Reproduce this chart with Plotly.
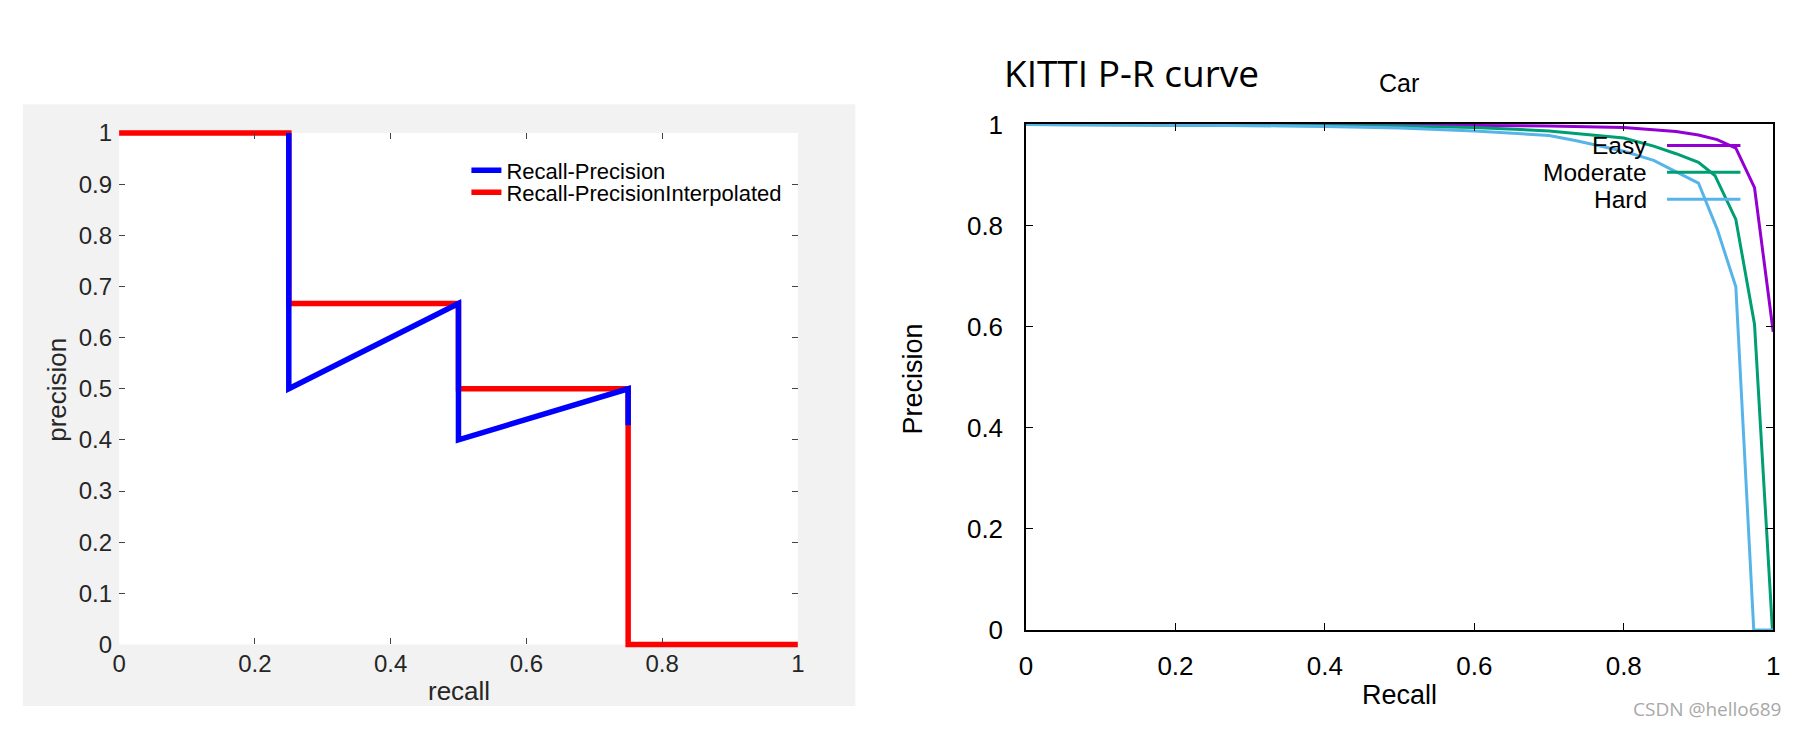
import plotly.graph_objects as go

# ---------------- data ----------------
# left panel (toy example)
rp_recall = [0.25, 0.25, 0.5, 0.5, 0.5, 0.75, 0.75]
rp_precision = [1.0, 0.5, 0.6667, 0.5, 0.4, 0.5, 0.4286]
interp_recall = [0.0, 0.25, 0.25, 0.5, 0.5, 0.75, 0.75, 1.0]
interp_precision = [1.0, 1.0, 0.6667, 0.6667, 0.5, 0.5, 0.0, 0.0]

left_xticks = [0, 0.2, 0.4, 0.6, 0.8, 1]
left_xticktext = ["0", "0.2", "0.4", "0.6", "0.8", "1"]
left_yticks = [0, 0.1, 0.2, 0.3, 0.4, 0.5, 0.6, 0.7, 0.8, 0.9, 1]
left_yticktext = ["0", "0.1", "0.2", "0.3", "0.4", "0.5", "0.6", "0.7", "0.8", "0.9", "1"]

# right panel (KITTI Car)
easy_recall = [0.0, 0.2, 0.4, 0.5, 0.6, 0.7, 0.8, 0.87, 0.9, 0.925, 0.95, 0.975, 1.0]
easy_precision = [1.0, 1.0, 0.999, 0.999, 0.998, 0.997, 0.994, 0.986, 0.979, 0.97, 0.953, 0.875, 0.59]
moderate_recall = [0.0, 0.2, 0.4, 0.5, 0.6, 0.7, 0.8, 0.84, 0.87, 0.9, 0.922, 0.95, 0.975, 0.999]
moderate_precision = [1.0, 0.999, 0.998, 0.997, 0.994, 0.987, 0.973, 0.957, 0.942, 0.925, 0.899, 0.812, 0.605, 0.0]
hard_recall = [0.0, 0.2, 0.4, 0.5, 0.6, 0.7, 0.735, 0.8, 0.84, 0.87, 0.9, 0.925, 0.95, 0.974, 1.0]
hard_precision = [1.0, 0.999, 0.996, 0.993, 0.987, 0.978, 0.968, 0.947, 0.929, 0.906, 0.884, 0.793, 0.679, 0.0, 0.0]

right_ticks = [0, 0.2, 0.4, 0.6, 0.8, 1]
right_ticktext = ["0", "0.2", "0.4", "0.6", "0.8", "1"]

# ---------------- layout helpers ----------------
W, H = 1804, 742


def px(x):
    return x / W


def py(y):
    return 1 - y / H


E = 0.01  # small data padding so edge lines are not clipped


def dom_x(x0, x1):
    w = x1 - x0
    return [px(x0 - E * w), px(x1 + E * w)]


def dom_y(top, bottom):
    h = bottom - top
    return [py(bottom + E * h), py(top - E * h)]


# plot areas (pixels)
L = dict(x0=113, x1=797, top=123, bottom=656)
R = dict(x0=1027, x1=1780, top=114, bottom=641)

FONT = "Liberation Sans, Arial, sans-serif"
MGRAY = "#262626"

fig = go.Figure()

# left traces (red first, blue on top)
fig.add_trace(go.Scatter(x=interp_recall, y=interp_precision, mode="lines",
                         line=dict(color="#ff0000", width=5.5),
                         name="Recall-PrecisionInterpolated",
                         xaxis="x", yaxis="y", legend="legend2"))
fig.add_trace(go.Scatter(x=rp_recall, y=rp_precision, mode="lines",
                         line=dict(color="#0000ff", width=5.5),
                         name="Recall-Precision",
                         xaxis="x", yaxis="y", legend="legend"))

# right traces
right_series = [
    ("Easy", easy_recall, easy_precision, "#9400d3"),
    ("Moderate", moderate_recall, moderate_precision, "#009e73"),
    ("Hard", hard_recall, hard_precision, "#56b4e9"),
]
for name, xs, ys, col in right_series:
    fig.add_trace(go.Scatter(x=xs, y=ys, mode="lines", name=name,
                             line=dict(color=col, width=3),
                             xaxis="x3", yaxis="y3", showlegend=False))

# empty traces so the decoration (frame / tick) subplots get drawn
for xa, ya in (("x2", "y2"), ("x4", "y4")):
    fig.add_trace(go.Scatter(x=[None], y=[None], mode="lines", xaxis=xa, yaxis=ya,
                             showlegend=False, hoverinfo="skip"))

hidden = dict(showgrid=False, zeroline=False, showline=False,
              showticklabels=False, ticks="")

fig.update_layout(
    width=W, height=H,
    margin=dict(l=0, r=0, t=0, b=0),
    paper_bgcolor="white",
    plot_bgcolor="rgba(0,0,0,0)",
    font=dict(family=FONT, color="black"),
    # left data axes
    xaxis=dict(domain=dom_x(L["x0"], L["x1"]), range=[-E, 1 + E], anchor="y", **hidden),
    yaxis=dict(domain=dom_y(L["top"], L["bottom"]), range=[-E, 1 + E], anchor="x", **hidden),
    # left decoration axes
    xaxis2=dict(domain=[px(L["x0"]), px(L["x1"])], range=[0, 1], anchor="y2",
                showgrid=False, zeroline=False, showline=False,
                ticks="inside", ticklen=6, tickwidth=0.8, tickcolor="#444",
                mirror="ticks", tickvals=left_xticks, ticktext=left_xticktext,
                tickfont=dict(size=24, color=MGRAY, family=FONT),
                ticklabelstandoff=3),
    yaxis2=dict(domain=[py(L["bottom"]), py(L["top"])], range=[0, 1], anchor="x2",
                showgrid=False, zeroline=False, showline=False,
                ticks="inside", ticklen=6, tickwidth=0.8, tickcolor="#444",
                mirror="ticks", tickvals=left_yticks, ticktext=left_yticktext,
                tickfont=dict(size=24, color=MGRAY, family=FONT),
                ticklabelstandoff=6),
    # right data axes
    xaxis3=dict(domain=dom_x(R["x0"], R["x1"]), range=[-E, 1 + E], anchor="y3", **hidden),
    yaxis3=dict(domain=dom_y(R["top"], R["bottom"]), range=[-E, 1 + E], anchor="x3", **hidden),
    # right decoration axes
    xaxis4=dict(domain=[px(R["x0"]), px(R["x1"])], range=[0, 1], anchor="y4",
                showgrid=False, zeroline=False, showline=True, linecolor="black",
                linewidth=1.5, mirror="ticks",
                ticks="inside", ticklen=7, tickwidth=1, tickcolor="black",
                tickvals=right_ticks, ticktext=right_ticktext,
                tickfont=dict(size=26, color="black", family=FONT),
                ticklabelstandoff=12),
    yaxis4=dict(domain=[py(R["bottom"]), py(R["top"])], range=[0, 1], anchor="x4",
                showgrid=False, zeroline=False, showline=True, linecolor="black",
                linewidth=1.5, mirror="ticks",
                ticks="inside", ticklen=7, tickwidth=1, tickcolor="black",
                tickvals=right_ticks, ticktext=right_ticktext,
                tickfont=dict(size=26, color="black", family=FONT),
                ticklabelstandoff=16),
    legend=dict(x=px(463), y=py(162), xanchor="left", yanchor="middle",
                bgcolor="rgba(0,0,0,0)", borderwidth=0,
                font=dict(size=22, color="black", family=FONT)),
    legend2=dict(x=px(463), y=py(185), xanchor="left", yanchor="middle",
                 bgcolor="rgba(0,0,0,0)", borderwidth=0,
                 font=dict(size=22, color="black", family=FONT)),
)

shapes = [
    # MATLAB figure background and white axes area
    dict(type="rect", xref="paper", yref="paper", x0=px(16), x1=px(855),
         y0=py(720), y1=py(93), fillcolor="#f2f2f2", line=dict(width=0), layer="below"),
    dict(type="rect", xref="paper", yref="paper", x0=px(L["x0"]), x1=px(L["x1"]),
         y0=py(L["bottom"]), y1=py(L["top"]), fillcolor="white", line=dict(width=0), layer="below"),
]


def label(text, x, y, size, color="black", family=FONT, angle=0, xanchor="center"):
    return dict(text=text, x=px(x), y=py(y), xref="paper", yref="paper",
                xanchor=xanchor, yanchor="middle", textangle=angle, showarrow=False,
                borderpad=0, font=dict(size=size, color=color, family=family))


annotations = [
    label("precision", 51, 391, 26, MGRAY, angle=-90),
    label("recall", 456, 704, 26, MGRAY),
    label("Precision", 913, 379, 27, angle=-90),
    label("Recall", 1403, 709, 27),
    label("Car", 1403, 71, 25),
    label("KITTI P-R curve", 1004, 59.5, 37, family="Open Sans", xanchor="left"),
    label("CSDN @hello689", 1789, 723, 19, "#a8a8a8", family="Open Sans", xanchor="right"),
]

# right legend (gnuplot style: text left, sample right)
legend_rows = [136, 164, 192]
for (name, xs, ys, col), yy in zip(right_series, legend_rows):
    annotations.append(label(name, 1654, yy, 24.5, xanchor="right"))
    shapes.append(dict(type="line", xref="paper", yref="paper", x0=px(1673), x1=px(1747),
                       y0=py(yy), y1=py(yy), line=dict(color=col, width=3)))

fig.update_layout(shapes=shapes, annotations=annotations)
fig.write_html("out.html",
               config={"displayModeBar": False},
               post_script="document.body.style.margin='0';"
                           "document.body.style.overflow='hidden';")
